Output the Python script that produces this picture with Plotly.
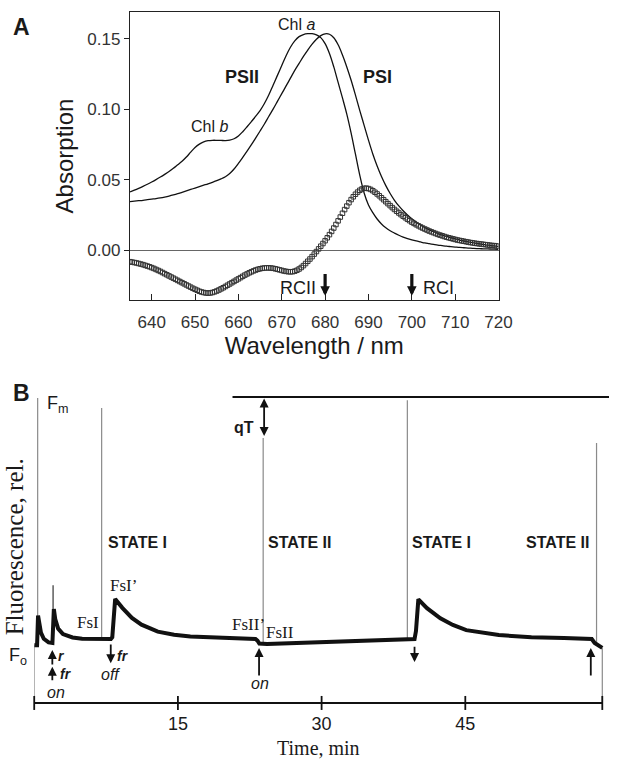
import plotly.graph_objects as go

# ---------------- Panel A data ----------------
wl_line = [635 + i for i in range(86)]
psii_abs = [0.0413, 0.0425, 0.0438, 0.0452, 0.0467, 0.0483, 0.0500, 0.0518, 0.0537, 0.0557,
            0.0580, 0.0605, 0.0630, 0.0660, 0.0695, 0.0728, 0.0752, 0.0768, 0.0776, 0.0779,
            0.0779, 0.0778, 0.0777, 0.0780, 0.0790, 0.0810, 0.0840, 0.0875, 0.0912, 0.0950,
            0.0990, 0.1040, 0.1100, 0.1170, 0.1240, 0.1310, 0.1380, 0.1440, 0.1485, 0.1515,
            0.1530, 0.1536, 0.1536, 0.1528, 0.1508, 0.1465, 0.1395, 0.1300, 0.1190, 0.1080,
            0.0965, 0.0830, 0.0680, 0.0530, 0.0405, 0.0320, 0.0265, 0.0220, 0.0185, 0.0158,
            0.0137, 0.0120, 0.0105, 0.0092, 0.0081, 0.0072, 0.0064, 0.0057, 0.0050, 0.0045,
            0.0040, 0.0035, 0.0031, 0.0027, 0.0024, 0.0021, 0.0018, 0.0016, 0.0014, 0.0012,
            0.0010, 0.0009, 0.0008, 0.0007, 0.0006, 0.0005]
psi_abs = [0.0344, 0.0347, 0.0350, 0.0353, 0.0357, 0.0361, 0.0365, 0.0370, 0.0376, 0.0383,
           0.0391, 0.0400, 0.0410, 0.0420, 0.0430, 0.0440, 0.0450, 0.0460, 0.0470, 0.0481,
           0.0493, 0.0505, 0.0520, 0.0543, 0.0575, 0.0615, 0.0658, 0.0702, 0.0748, 0.0796,
           0.0845, 0.0895, 0.0948, 0.1000, 0.1055, 0.1110, 0.1165, 0.1220, 0.1275, 0.1325,
           0.1375, 0.1420, 0.1462, 0.1497, 0.1522, 0.1535, 0.1532, 0.1507, 0.1457, 0.1385,
           0.1300, 0.1205, 0.1100, 0.0990, 0.0885, 0.0780, 0.0682, 0.0597, 0.0522, 0.0457,
           0.0401, 0.0353, 0.0313, 0.0279, 0.0249, 0.0222, 0.0199, 0.0178, 0.0160, 0.0144,
           0.0130, 0.0117, 0.0106, 0.0096, 0.0087, 0.0079, 0.0071, 0.0064, 0.0058, 0.0052,
           0.0047, 0.0042, 0.0037, 0.0033, 0.0029, 0.0026]

wl_diff = [635 + 0.5 * i for i in range(171)]
diff_abs = [-0.0083, -0.0086, -0.0089, -0.0092, -0.0096, -0.0100, -0.0104, -0.0109, -0.0114, -0.0119,
            -0.0125, -0.0131, -0.0138, -0.0145, -0.0152, -0.0160, -0.0168, -0.0176, -0.0184, -0.0192,
            -0.0200, -0.0208, -0.0216, -0.0224, -0.0232, -0.0240, -0.0248, -0.0256, -0.0264, -0.0272,
            -0.0279, -0.0286, -0.0293, -0.0298, -0.0302, -0.0305, -0.0306, -0.0305, -0.0302, -0.0297,
            -0.0291, -0.0284, -0.0276, -0.0268, -0.0259, -0.0250, -0.0241, -0.0232, -0.0223, -0.0214,
            -0.0205, -0.0196, -0.0187, -0.0178, -0.0170, -0.0162, -0.0155, -0.0148, -0.0142, -0.0137,
            -0.0133, -0.0130, -0.0128, -0.0127, -0.0127, -0.0128, -0.0130, -0.0133, -0.0137, -0.0141,
            -0.0145, -0.0149, -0.0152, -0.0154, -0.0155, -0.0154, -0.0150, -0.0144, -0.0135, -0.0124,
            -0.0111, -0.0096, -0.0080, -0.0064, -0.0047, -0.0029, -0.0011, 0.0008, 0.0027, 0.0046,
            0.0066, 0.0087, 0.0109, 0.0132, 0.0156, 0.0181, 0.0207, 0.0234, 0.0261, 0.0287,
            0.0312, 0.0336, 0.0358, 0.0378, 0.0396, 0.0411, 0.0424, 0.0433, 0.0438, 0.0439,
            0.0436, 0.0430, 0.0421, 0.0410, 0.0398, 0.0385, 0.0371, 0.0357, 0.0343, 0.0329,
            0.0315, 0.0301, 0.0288, 0.0275, 0.0263, 0.0251, 0.0240, 0.0229, 0.0218, 0.0208,
            0.0198, 0.0189, 0.0180, 0.0172, 0.0164, 0.0156, 0.0149, 0.0142, 0.0135, 0.0129,
            0.0123, 0.0117, 0.0111, 0.0106, 0.0101, 0.0096, 0.0091, 0.0087, 0.0083, 0.0079,
            0.0075, 0.0071, 0.0068, 0.0065, 0.0062, 0.0059, 0.0056, 0.0053, 0.0051, 0.0048,
            0.0046, 0.0044, 0.0042, 0.0040, 0.0038, 0.0036, 0.0034, 0.0032, 0.0031, 0.0029,
            0.0027]

a_xticks = [640, 650, 660, 670, 680, 690, 700, 710, 720]
a_yticks = [0.00, 0.05, 0.10, 0.15]
a_yticktext = ["0.00", "0.05", "0.10", "0.15"]
rc_wavelengths = [680, 700]

# ---------------- Panel B data (relative fluorescence, Fm = 1) ----------------
trace_t = [0.0, 0.3, 0.4, 0.55, 0.7, 1.0, 1.5, 1.9, 2.05, 2.2, 2.5, 3.0, 4.0, 5.0, 6.0, 7.0, 8.0,
           8.15, 8.35, 8.45, 9.2, 10.2, 11.2, 12.9, 14.6, 16.3, 19.7, 23.1, 23.3, 23.5, 24.3,
           28.7, 33.9, 38.9, 39.7, 39.85, 40.1, 41.0, 42.4, 43.7, 45.1, 48.5, 51.9, 55.3, 58.2,
           58.5, 58.9, 59.3]
trace_v = [0.189, 0.189, 0.286, 0.256, 0.230, 0.210, 0.198, 0.196, 0.307, 0.273, 0.243, 0.225,
           0.214, 0.210, 0.209, 0.209, 0.209, 0.215, 0.332, 0.340, 0.311, 0.278, 0.256, 0.233,
           0.223, 0.217, 0.213, 0.209, 0.204, 0.194, 0.193, 0.197, 0.204, 0.209, 0.209, 0.235,
           0.339, 0.310, 0.277, 0.255, 0.238, 0.222, 0.215, 0.212, 0.209, 0.196, 0.189, 0.180]

spike_t = [0.0, 0.36, 7.04, 23.9, 38.95, 58.7, 59.3]
spike_base = [0.0, 0.184, 0.209, 0.193, 0.209, 0.195, 0.0]
spike_top = [0.189, 0.997, 0.964, 0.866, 0.990, 0.850, 0.180]
act_spike_t = [1.97]
act_spike_base = [0.196]
act_spike_top = [0.385]

fm_level = 1.0
fm_line_t = [20.7, 60.0]
time_end = 59.3
b_xticks = [0, 15, 30, 45, 59.3]
b_xticklabels = [15, 30, 45]

fig = go.Figure()

# Panel A traces
fig.add_trace(go.Scatter(x=wl_line, y=psii_abs, mode="lines", line=dict(color="#111", width=1.3),
                         line_shape="spline", xaxis="x", yaxis="y", showlegend=False))
fig.add_trace(go.Scatter(x=wl_line, y=psi_abs, mode="lines", line=dict(color="#111", width=1.3),
                         line_shape="spline", xaxis="x", yaxis="y", showlegend=False))
fig.add_trace(go.Scatter(x=wl_diff, y=diff_abs, mode="markers",
                         marker=dict(symbol="square-open", size=4.5, color="#333", line=dict(width=1, color="#333")),
                         xaxis="x", yaxis="y", showlegend=False))

# Panel B traces
sx, sy = [], []
for t, b, tp in zip(spike_t, spike_base, spike_top):
    sx += [t, t, None]
    sy += [b, tp, None]
fig.add_trace(go.Scatter(x=sx, y=sy, mode="lines", line=dict(color="#8a8a8a", width=1.2),
                         xaxis="x2", yaxis="y2", showlegend=False))
ax_, ay_ = [], []
for t, b, tp in zip(act_spike_t, act_spike_base, act_spike_top):
    ax_ += [t, t, None]
    ay_ += [b, tp, None]
fig.add_trace(go.Scatter(x=ax_, y=ay_, mode="lines", line=dict(color="#444", width=1.3),
                         xaxis="x2", yaxis="y2", showlegend=False))
fig.add_trace(go.Scatter(x=trace_t, y=trace_v, mode="lines", line=dict(color="#111", width=4),
                         xaxis="x2", yaxis="y2", showlegend=False))
fig.add_trace(go.Scatter(x=fm_line_t, y=[fm_level, fm_level], mode="lines",
                         line=dict(color="#111", width=2), xaxis="x2", yaxis="y2", showlegend=False))
# time axis line and crossing ticks
fig.add_trace(go.Scatter(x=[0, time_end], y=[0, 0], mode="lines", line=dict(color="#111", width=2),
                         xaxis="x2", yaxis="y2", showlegend=False))
fig.add_trace(go.Scatter(x=b_xticks, y=[0] * len(b_xticks), mode="markers", cliponaxis=False,
                         marker=dict(symbol="line-ns", size=10, line=dict(width=1.8, color="#111")),
                         xaxis="x2", yaxis="y2", showlegend=False))

SANS = "Liberation Sans, Arial, sans-serif"
SERIF = "Liberation Serif, Times New Roman, serif"
TXT = "#1a1a1a"

fig.update_layout(
    width=623, height=760, autosize=False,
    margin=dict(l=0, r=0, t=0, b=0),
    paper_bgcolor="white", plot_bgcolor="white",
    xaxis=dict(domain=[133 / 623, 510 / 623], range=[635, 720], tickvals=a_xticks,
               ticks="inside", ticklen=6, tickwidth=1.3, tickcolor="#222",
               showline=True, linecolor="#222", linewidth=1.3, mirror=True,
               showgrid=False, zeroline=False, ticklabelstandoff=6,
               tickfont=dict(family=SANS, size=17, color="#333"),
               title=dict(text="Wavelength / nm", font=dict(family=SANS, size=24, color=TXT), standoff=0),
               anchor="y"),
    yaxis=dict(domain=[1 - 300 / 760, 1 - 12 / 760], range=[-0.0355, 0.169],
               tickvals=a_yticks, ticktext=a_yticktext,
               ticks="outside", ticklen=5, tickwidth=1.3, tickcolor="#222",
               showline=True, linecolor="#222", linewidth=1.3, mirror=True,
               showgrid=False, zeroline=True, zerolinecolor="#666", zerolinewidth=1,
               tickfont=dict(family=SANS, size=17, color="#333"),
               title=dict(text="Absorption", font=dict(family=SANS, size=24, color=TXT), standoff=6),
               anchor="x"),
    xaxis2=dict(domain=[35 / 623, 1.0], range=[0, 60.0], tickvals=b_xticklabels,
                ticks="outside", ticklen=3, tickcolor="rgba(0,0,0,0)",
                showline=False, showgrid=False, zeroline=False,
                tickfont=dict(family=SANS, size=18, color=TXT),
                anchor="y2"),
    yaxis2=dict(domain=[1 - 704.8 / 760, 1 - 387.6 / 760], range=[-0.006, 1.031],
                visible=False, anchor="x2"),
)

ann = []
# panel letters
ann.append(dict(text="<b>A</b>", xref="paper", yref="paper", x=22 / 623, y=1 - 27 / 760,
                xanchor="center", yanchor="middle", showarrow=False, font=dict(family=SANS, size=23, color=TXT)))
ann.append(dict(text="<b>B</b>", xref="paper", yref="paper", x=22 / 623, y=1 - 393 / 760,
                xanchor="center", yanchor="middle", showarrow=False, font=dict(family=SANS, size=23, color=TXT)))
# panel B x-axis title
ann.append(dict(text="Time, min", xref="x2 domain", yref="paper", x=0.5 * (time_end / 60.0), y=0.0,
                xanchor="center", yanchor="bottom", showarrow=False, borderpad=0,
                font=dict(family=SERIF, size=20, color=TXT)))

# Panel A labels
a_labels = [("Chl <i>a</i>", 673.3, 0.160, 16),
            ("<b>PSII</b>", 660.9, 0.123, 18),
            ("Chl <i>b</i>", 653.3, 0.088, 16),
            ("<b>PSI</b>", 692.0, 0.123, 18),
            ("RCII", 673.8, -0.027, 18),
            ("RCI", 706.2, -0.027, 18)]
for txt, x, y, sz in a_labels:
    ann.append(dict(text=txt, x=x, y=y, xref="x", yref="y", showarrow=False,
                    xanchor="center", yanchor="middle", font=dict(family=SANS, size=sz, color=TXT)))
for wl in rc_wavelengths:
    ann.append(dict(text="", x=wl, y=-0.0325, ax=wl, ay=-0.0160, xref="x", yref="y",
                    axref="x", ayref="y", showarrow=True, arrowhead=2, arrowsize=0.6,
                    arrowwidth=3.2, arrowcolor="#111", standoff=0))

# Panel B labels
b_sans = [("F<sub>m</sub>", 2.45, 0.975, 18),
          ("<b>STATE I</b>", 10.82, 0.526, 16),
          ("<b>STATE II</b>", 27.65, 0.526, 16),
          ("<b>STATE I</b>", 42.55, 0.526, 16),
          ("<b>STATE II</b>", 54.6, 0.526, 16),
          ("<b>qT</b>", 21.94, 0.902, 16),
          ("<b><i>r</i></b>", 2.86, 0.153, 14),
          ("<b><i>fr</i></b>", 3.27, 0.096, 14),
          ("<i>on</i>", 2.24, 0.033, 16),
          ("<b><i>fr</i></b>", 9.29, 0.154, 14),
          ("<i>off</i>", 7.96, 0.092, 16),
          ("<i>on</i>", 23.57, 0.063, 16)]
for txt, x, y, sz in b_sans:
    ann.append(dict(text=txt, x=x, y=y, xref="x2", yref="y2", showarrow=False,
                    xanchor="center", yanchor="middle", font=dict(family=SANS, size=sz, color=TXT)))
b_serif = [("FsI", 5.61, 0.262), ("FsI’", 9.29, 0.385), ("FsII’", 22.35, 0.255), ("FsII", 25.7, 0.232)]
for txt, x, y in b_serif:
    ann.append(dict(text=txt, x=x, y=y, xref="x2", yref="y2", showarrow=False,
                    xanchor="center", yanchor="middle", font=dict(family=SERIF, size=17, color=TXT)))
ann.append(dict(text="F<sub>o</sub>", x=(18 - 35) / 588, y=0.151, xref="x2 domain", yref="y2",
                xanchor="center", yanchor="middle", showarrow=False, font=dict(family=SANS, size=18, color=TXT)))
ann.append(dict(text="Fluorescence, rel.", x=15 / 623, y=0.511, xref="paper", yref="y2",
                xanchor="center", yanchor="middle",
                textangle=-90, showarrow=False, font=dict(family=SERIF, size=25, color=TXT)))

# event arrows (head, tail)
b_arrows = [(1.89, 0.173, 0.121), (1.89, 0.118, 0.069), (7.99, 0.130, 0.196),
            (23.47, 0.180, 0.085), (39.7, 0.134, 0.189), (58.1, 0.180, 0.085)]
for t, yh, yt in b_arrows:
    ann.append(dict(text="", x=t, y=yh, ax=t, ay=yt, xref="x2", yref="y2", axref="x2", ayref="y2",
                    showarrow=True, arrowhead=2, arrowsize=1, arrowwidth=1.8, arrowcolor="#111", standoff=0))
# qT double arrow
ann.append(dict(text="", x=24.0, y=0.873, ax=24.0, ay=fm_level, xref="x2", yref="y2", axref="x2", ayref="y2",
                showarrow=True, arrowhead=2, startarrowhead=2, arrowside="end+start", arrowsize=1,
                arrowwidth=1.8, arrowcolor="#111", standoff=0, startstandoff=0))

fig.update_layout(annotations=ann)
fig.write_html("out.html", config={"displayModeBar": False},
               post_script="document.body.style.margin='0px';document.body.style.overflow='hidden';")
